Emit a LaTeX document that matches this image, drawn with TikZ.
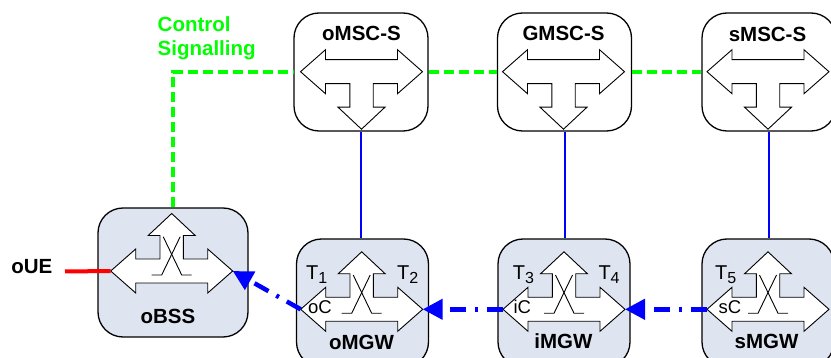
\documentclass[tikz,border=0pt]{standalone}
\usepackage{fontspec}
\setmainfont{Liberation Sans}
\usetikzlibrary{arrows.meta}
\definecolor{gboxfill}{RGB}{222,228,240}
\definecolor{sigGreen}{RGB}{0,255,0}
\tikzset{
  mscbox/.style={draw=black, line width=1.3pt, rounded corners=25pt, fill=white, minimum width=134pt, minimum height=118pt, inner sep=0pt},
  mgwbox/.style={draw=black, line width=1.3pt, rounded corners=25pt, fill=gboxfill, minimum width=132pt, minimum height=128pt, inner sep=0pt},
  bssbox/.style={mgwbox, minimum width=150pt, minimum height=129pt},
  shapeline/.style={draw=black, fill=white, line width=0.9pt, line join=miter},
  xline/.style={draw=black, line width=0.9pt},
  lbl/.style={font=\fontsize{20.5}{24}\selectfont\bfseries, inner sep=0pt},
  tl/.style={font=\fontsize{20}{24}\selectfont, inner sep=0pt},
  cl/.style={font=\fontsize{18.5}{20}\selectfont, inner sep=0pt},
  sig/.style={draw=sigGreen, line width=4pt, dash pattern=on 10pt off 5pt},
  ctrl/.style={draw=blue, line width=2pt},
  media/.style={draw=blue, line width=4.5pt, dash pattern=on 16pt off 9pt on 3pt off 9pt, -{Triangle[length=20pt,width=20pt]}},
  access/.style={draw=red, line width=4pt},
  mgwshape/.pic={
    \path[shapeline] (0,-57.5) -- (23.5,-35.5) -- (11.7,-35.5) -- (11.7,-12) -- (36,-12) -- (36,-22) -- (61,0) -- (36,22) -- (36,12) -- (-36,12) -- (-36,22) -- (-61,0) -- (-36,-22) -- (-36,-12) -- (-11.7,-12) -- (-11.7,-35.5) -- (-23.5,-35.5) -- cycle;
    \path[xline] (-8.5,-34.3) -- (10,4) -- (20,4);
    \path[xline] (8.5,-34.3) -- (-10,4) -- (-20,4);
    \coordinate (-l) at (-61,0);
    \coordinate (-r) at (61,0);
  },
  mscshape/.pic={
    \path[shapeline] (0,57.5) -- (23.5,35.5) -- (11.7,35.5) -- (11.7,12) -- (36,12) -- (36,22) -- (61,0) -- (36,-22) -- (36,-12) -- (-36,-12) -- (-36,-22) -- (-61,0) -- (-36,22) -- (-36,12) -- (-11.7,12) -- (-11.7,35.5) -- (-23.5,35.5) -- cycle;
    \coordinate (-l) at (-61,0);
    \coordinate (-r) at (61,0);
  }
}
\begin{document}
\begin{tikzpicture}[x=1pt,y=-1pt]
\useasboundingbox (0,0) rectangle (831,358);
\clip (0,0) rectangle (831,358);

% top boxes
\node[mscbox] (oMSC) at (361,72) {};
\node[mscbox] (GMSC) at (564.5,72) {};
\node[mscbox] (sMSC) at (769,72) {};
\pic (oMSCs) at (361.5,71.7) {mscshape};
\pic (GMSCs) at (563.5,71.7) {mscshape};
\pic (sMSCs) at (768,71.7) {mscshape};
\node[lbl, anchor=base] (oMSCt) at (361.5,41) {oMSC-S};
\node[lbl, anchor=base] (GMSCt) at (563.5,40.5) {GMSC-S};
\node[lbl, anchor=base] (sMSCt) at (767.5,41.5) {sMSC-S};

% bottom boxes
\node[bssbox] (oBSS) at (173,272.5) {};
\node[mgwbox] (oMGW) at (362.5,303) {};
\node[mgwbox] (iMGW) at (564,303) {};
\node[mgwbox] (sMGW) at (768,303) {};
\pic (oBSSs) at (171.7,271) {mgwshape};
\pic (oMGWs) at (361.7,309.3) {mgwshape};
\pic (iMGWs) at (564,309.3) {mgwshape};
\pic (sMGWs) at (768,309.3) {mgwshape};
\node[lbl, anchor=base] (oBSSt) at (168,323.5) {oBSS};
\node[lbl, anchor=base] (oMGWt) at (361.5,350) {oMGW};
\node[lbl, anchor=base] (iMGWt) at (563.5,349) {iMGW};
\node[lbl, anchor=base] (sMGWt) at (766.5,349) {sMGW};

% T labels
\node[tl, anchor=base west] (T1) at (306,280) {T\raisebox{-3.3pt}{\fontsize{16}{16}\selectfont 1}};
\node[tl, anchor=base west] (T2) at (397,280) {T\raisebox{-3.3pt}{\fontsize{16}{16}\selectfont 2}};
\node[tl, anchor=base west] (T3) at (512.7,280) {T\raisebox{-3.3pt}{\fontsize{16}{16}\selectfont 3}};
\node[tl, anchor=base west] (T4) at (598.3,280) {T\raisebox{-3.3pt}{\fontsize{16}{16}\selectfont 4}};
\node[tl, anchor=base west] (T5) at (715,280) {T\raisebox{-3.3pt}{\fontsize{16}{16}\selectfont 5}};
\node[cl, anchor=base west] (oC) at (308,313.5) {oC};
\node[cl, anchor=base west] (iC) at (513.3,313.5) {iC};
\node[cl, anchor=base west] (sC) at (718.3,313.5) {sC};

% UE
\node[lbl, anchor=base east] (oUE) at (52.5,274) {oUE};
\coordinate (ue) at (65,271.5);
\draw[access] (ue) -- (oBSSs-l);

% control signalling
\node[lbl, text=sigGreen, anchor=north west, align=left, font=\fontsize{20.5}{23.3}\selectfont\bfseries] (ctl) at (157.5,16.7) {Control\\Signalling};
\draw[sig] (oBSS.north) |- (oMSC.west);
\draw[sig] (oMSC.east) -- (GMSC.west);
\draw[sig] (GMSC.east) -- (sMSC.west);

% MSC to MGW
\draw[ctrl] (oMSC.south) -- (oMSC.south |- oMGW.north);
\draw[ctrl] (GMSC.south) -- (GMSC.south |- iMGW.north);
\draw[ctrl] (sMSC.south) -- (sMSC.south |- sMGW.north);

% media
\draw[media] (oMGWs-l) -- (oBSSs-r);
\draw[media] (iMGWs-l) -- (oMGWs-r);
\draw[media] (sMGWs-l) -- (iMGWs-r);
\end{tikzpicture}
\end{document}
